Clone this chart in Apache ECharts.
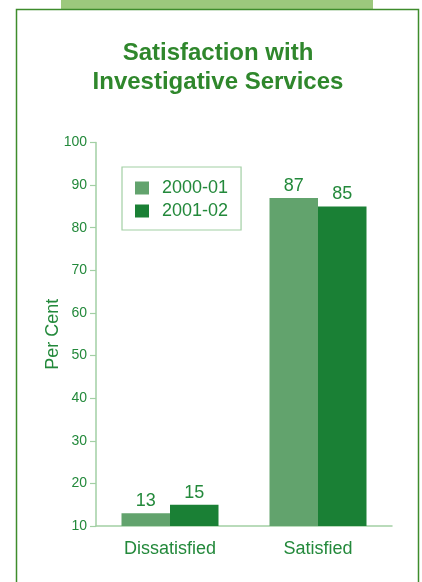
<!DOCTYPE html>
<html>
<head>
<meta charset="utf-8">
<style>
  html, body { margin: 0; padding: 0; background: #ffffff; }
  #chart { width: 422px; height: 582px; }
</style>
<script src="https://cdn.jsdelivr.net/npm/echarts@6/dist/echarts.min.js"></script>
</head>
<body>
<div id="chart"></div>
<script>
// Survey results: share of respondents by satisfaction level
const categories = ['Dissatisfied', 'Satisfied'];
const seriesNames = ['2000-01', '2001-02'];
const values2000 = [13, 87];
const values2001 = [15, 85];
const yTicks = { min: 10, max: 100, interval: 10 };

const textGreen = '#23893b';
const lightBar = '#62a36d';
const darkBar = '#1a8035';
const axisGreen = '#a2cfa4';
const sans = '"Liberation Sans", Arial, sans-serif';
const narrow = '"Liberation Sans Narrow", "Arial Narrow", "Liberation Sans", sans-serif';

const chart = echarts.init(document.getElementById('chart'), null, { renderer: 'canvas' });

const valueLabel = {
  show: true,
  position: 'top',
  distance: 3,
  color: textGreen,
  fontFamily: sans,
  fontSize: 18
};

chart.setOption({
  backgroundColor: '#ffffff',
  animation: false,
  graphic: [
    // header tab above the panel
    { type: 'rect', shape: { x: 61, y: 0, width: 312, height: 9 }, style: { fill: '#9cc87d' }, z: 0 },
    // panel frame
    { type: 'rect', shape: { x: 16.5, y: 9.5, width: 402, height: 600 },
      style: { fill: 'none', stroke: '#3e8c2c', lineWidth: 1.5 }, z: 0 }
  ],
  title: {
    text: 'Satisfaction with\nInvestigative Services',
    left: 213,
    textAlign: 'center',
    top: 34,
    textStyle: {
      color: '#2f872c',
      fontFamily: sans,
      fontWeight: 'bold',
      fontSize: 24,
      lineHeight: 29
    }
  },
  legend: {
    orient: 'vertical',
    left: 122,
    top: 167,
    width: 120,
    padding: [12, 13, 10, 13],
    itemGap: 5,
    itemWidth: 14,
    itemHeight: 13,
    borderColor: axisGreen,
    borderWidth: 1.2,
    borderRadius: 0,
    icon: 'rect',
    data: seriesNames,
    textStyle: {
      color: textGreen,
      fontFamily: sans,
      fontSize: 18,
      lineHeight: 16,
      padding: [0, 0, 0, 8]
    }
  },
  grid: { left: 96, right: 30, top: 142.5, bottom: 56, containLabel: false },
  xAxis: {
    type: 'category',
    data: categories,
    axisLine: { lineStyle: { color: axisGreen, width: 1.5 } },
    axisTick: { show: false },
    axisLabel: { color: textGreen, fontFamily: sans, fontSize: 18, margin: 14 }
  },
  yAxis: {
    type: 'value',
    min: yTicks.min,
    max: yTicks.max,
    interval: yTicks.interval,
    name: 'Per Cent',
    nameLocation: 'middle',
    nameRotate: 90,
    nameGap: 34,
    nameMoveOverlap: false,
    nameTextStyle: { color: textGreen, fontFamily: sans, fontSize: 18 },
    axisLine: { show: true, lineStyle: { color: axisGreen, width: 1.5 } },
    axisTick: { show: true, length: 6, lineStyle: { color: axisGreen, width: 1.2 } },
    splitLine: { show: false },
    axisLabel: { color: textGreen, fontFamily: narrow, fontSize: 14, margin: 9 }
  },
  series: [
    {
      name: seriesNames[0],
      type: 'bar',
      data: values2000,
      barWidth: 48.5,
      barGap: '0%',
      itemStyle: { color: lightBar },
      label: valueLabel
    },
    {
      name: seriesNames[1],
      type: 'bar',
      data: values2001,
      barWidth: 48.5,
      barGap: '0%',
      itemStyle: { color: darkBar },
      label: valueLabel
    }
  ]
});
</script>
</body>
</html>
